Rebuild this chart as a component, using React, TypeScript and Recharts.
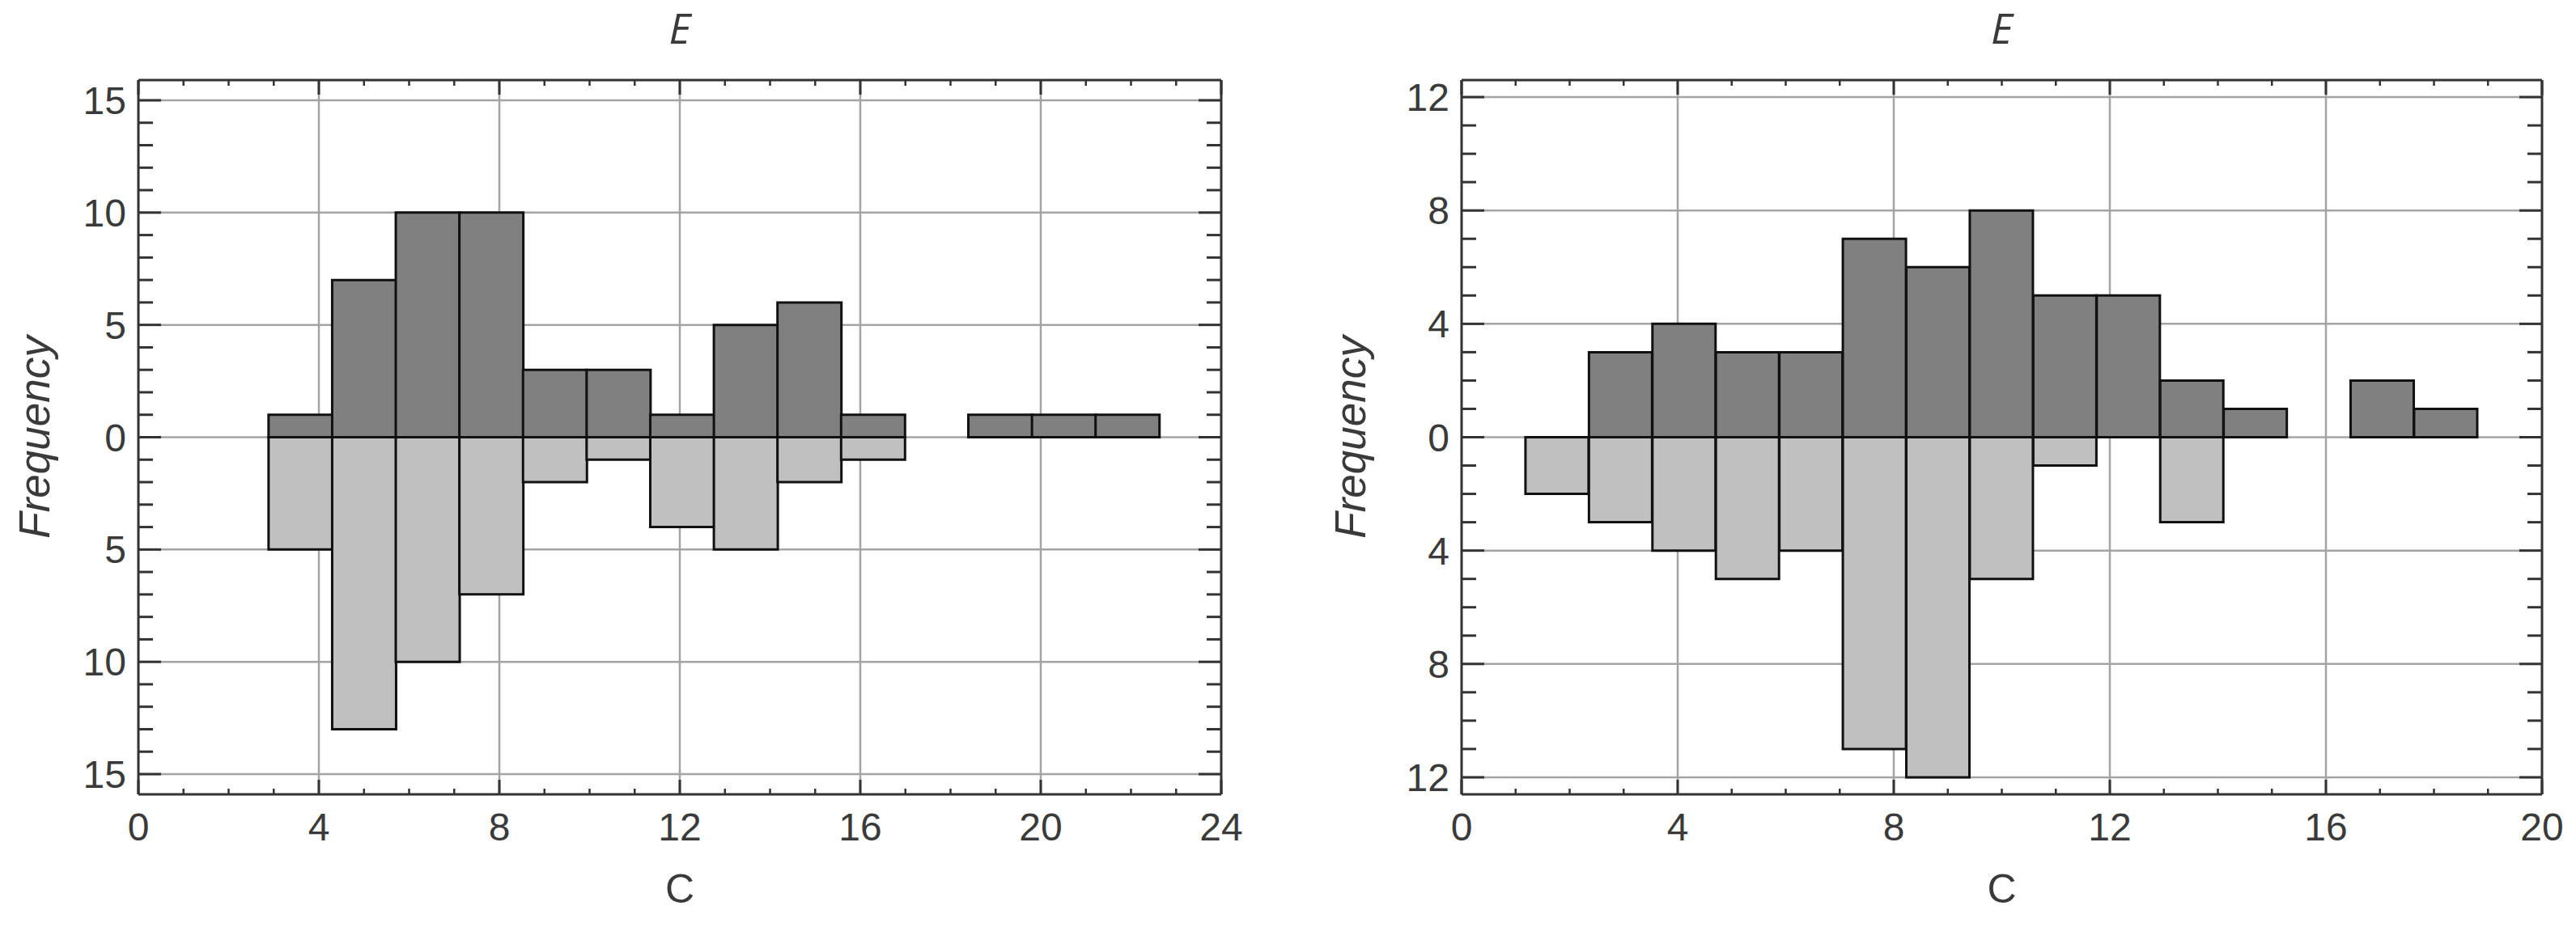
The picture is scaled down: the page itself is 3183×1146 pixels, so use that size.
import { Bar, CartesianGrid, ComposedChart, Label, XAxis, YAxis } from "recharts"

// left panel: bins of C (centres), dark = upper counts, light = lower counts
const leftBins = [3.59, 5.0, 6.41, 7.82, 9.23, 10.64, 12.05, 13.46, 14.87, 16.28, 17.69, 19.1, 20.51, 21.92]
const leftUpper = [1, 7, 10, 10, 3, 3, 1, 5, 6, 1, 0, 1, 1, 1]
const leftLower = [5, 13, 10, 7, 2, 1, 4, 5, 2, 1, 0, 0, 0, 0]
const leftXTicks = [0, 1, 2, 3, 4, 5, 6, 7, 8, 9, 10, 11, 12, 13, 14, 15, 16, 17, 18, 19, 20, 21, 22, 23, 24]
const leftYTicks = [-15, -14, -13, -12, -11, -10, -9, -8, -7, -6, -5, -4, -3, -2, -1, 0, 1, 2, 3, 4, 5, 6, 7, 8, 9, 10, 11, 12, 13, 14, 15]
const leftGridX = [4, 8, 12, 16, 20]
const leftGridY = [-15, -10, -5, 0, 5, 10, 15]

// right panel
const rightBins = [1.77, 2.945, 4.12, 5.295, 6.47, 7.645, 8.82, 9.995, 11.17, 12.345, 13.52, 14.695, 15.87, 17.045, 18.22]
const rightUpper = [0, 3, 4, 3, 3, 7, 6, 8, 5, 5, 2, 1, 0, 2, 1]
const rightLower = [2, 3, 4, 5, 4, 11, 12, 5, 1, 0, 3, 0, 0, 0, 0]
const rightXTicks = [0, 1, 2, 3, 4, 5, 6, 7, 8, 9, 10, 11, 12, 13, 14, 15, 16, 17, 18, 19, 20]
const rightYTicks = [-12, -11, -10, -9, -8, -7, -6, -5, -4, -3, -2, -1, 0, 1, 2, 3, 4, 5, 6, 7, 8, 9, 10, 11, 12]
const rightGridX = [4, 8, 12, 16]
const rightGridY = [-12, -8, -4, 0, 4, 8, 12]

const AXIS = "#333333"
const TEXT = "#3a3a3a"
const GRID = "#a4a4a4"
const DARK = "#808080"
const LIGHT = "#c0c0c0"
const SANS = "'Liberation Sans', Arial, sans-serif"

function makeXTick(side: "bottom" | "top", step: number) {
  return (p: any) => {
    const v = p.payload.value
    const major = v % step === 0
    const len = major ? 18 : 7
    const dir = side === "bottom" ? -1 : 1
    return (
      <g>
        <line x1={p.x} x2={p.x} y1={p.y} y2={p.y + dir * len} stroke={AXIS} strokeWidth={major ? 3 : 2.5} />
        {side === "bottom" && major && (
          <text x={p.x} y={p.y + 57} textAnchor="middle" fontSize={48} fill={TEXT} fontFamily={SANS}>
            {v}
          </text>
        )}
      </g>
    )
  }
}

function makeYTick(side: "left" | "right", step: number) {
  return (p: any) => {
    const v = p.payload.value
    const major = v % step === 0
    const len = major ? 28 : 18
    const dir = side === "left" ? 1 : -1
    return (
      <g>
        <line x1={p.x} x2={p.x + dir * len} y1={p.y} y2={p.y} stroke={AXIS} strokeWidth={3} />
        {side === "left" && major && (
          <text x={p.x - 15} y={p.y + 17} textAnchor="end" fontSize={48} fill={TEXT} fontFamily={SANS}>
            {Math.abs(v)}
          </text>
        )}
      </g>
    )
  }
}

interface PanelProps {
  bins: number[]
  upper: number[]
  lower: number[]
  xMax: number
  yMax: number
  xTicks: number[]
  yTicks: number[]
  gridX: number[]
  gridY: number[]
  xStep: number
  yStep: number
  width: number
  leftW: number
  rightW: number
  freqOffset: number
}

function Panel(props: PanelProps) {
  const data = props.bins.map((c, i) => ({ c, up: props.upper[i], down: -props.lower[i] }))
  const line = { stroke: AXIS, strokeWidth: 3 }
  return (
    <ComposedChart
      width={props.width}
      height={1146}
      data={data}
      stackOffset="sign"
      barCategoryGap={0}
      barGap={0}
      margin={{ top: 0, right: 0, bottom: 0, left: 0 }}
    >
      <CartesianGrid stroke={GRID} strokeWidth={2.5} horizontalValues={props.gridY} verticalValues={props.gridX} />
      <XAxis
        dataKey="c"
        type="number"
        domain={[0, props.xMax]}
        allowDataOverflow
        ticks={props.xTicks}
        interval={0}
        height={164}
        tickSize={0}
        tickMargin={0}
        tickLine={false}
        axisLine={line}
        tick={makeXTick("bottom", props.xStep)}
      >
        <Label value="C" position="insideBottom" offset={30} fontSize={50} fill={TEXT} fontFamily={SANS} />
      </XAxis>
      <XAxis
        xAxisId="t"
        orientation="top"
        dataKey="c"
        type="number"
        domain={[0, props.xMax]}
        allowDataOverflow
        ticks={props.xTicks}
        interval={0}
        height={99}
        tickSize={0}
        tickMargin={0}
        tickLine={false}
        axisLine={line}
        tick={makeXTick("top", props.xStep)}
      >
        <Label value="E" position="insideTop" offset={17} fontSize={52} fill={TEXT} fontFamily="'Open Sans', sans-serif" fontStyle="italic" />
      </XAxis>
      <YAxis
        type="number"
        domain={[-props.yMax, props.yMax]}
        allowDataOverflow
        ticks={props.yTicks}
        interval={0}
        width={props.leftW}
        tickSize={0}
        tickMargin={0}
        tickLine={false}
        axisLine={line}
        tick={makeYTick("left", props.yStep)}
      >
        <Label
          value="Frequency"
          angle={-90}
          position="insideLeft"
          offset={props.freqOffset}
          fontSize={53}
          fill={TEXT}
          fontFamily={SANS}
          fontStyle="italic"
          style={{ textAnchor: "middle" }}
        />
      </YAxis>
      <YAxis
        yAxisId="r"
        orientation="right"
        type="number"
        domain={[-props.yMax, props.yMax]}
        allowDataOverflow
        ticks={props.yTicks}
        interval={0}
        width={props.rightW}
        tickSize={0}
        tickMargin={0}
        tickLine={false}
        axisLine={line}
        tick={makeYTick("right", props.yStep)}
      />
      <Bar dataKey="up" stackId="h" fill={DARK} stroke="#111111" strokeWidth={3} isAnimationActive={false} />
      <Bar dataKey="down" stackId="h" fill={LIGHT} stroke="#111111" strokeWidth={3} isAnimationActive={false} />
    </ComposedChart>
  )
}

export default function App() {
  return (
    <div style={{ position: "absolute", left: 0, top: 0, width: 3183, height: 1146, background: "#fff" }}>
      <div style={{ position: "absolute", left: 0, top: 0 }}>
        <Panel
          bins={leftBins}
          upper={leftUpper}
          lower={leftLower}
          xMax={24}
          yMax={15.9}
          xTicks={leftXTicks}
          yTicks={leftYTicks}
          gridX={leftGridX}
          gridY={leftGridY}
          xStep={4}
          yStep={5}
          width={1580}
          leftW={171}
          rightW={71}
          freqOffset={42.5}
        />
      </div>
      <div style={{ position: "absolute", left: 1580, top: 0 }}>
        <Panel
          bins={rightBins}
          upper={rightUpper}
          lower={rightLower}
          xMax={20}
          yMax={12.6}
          xTicks={rightXTicks}
          yTicks={rightYTicks}
          gridX={rightGridX}
          gridY={rightGridY}
          xStep={4}
          yStep={4}
          width={1603}
          leftW={226}
          rightW={42}
          freqOffset={88.5}
        />
      </div>
    </div>
  )
}
